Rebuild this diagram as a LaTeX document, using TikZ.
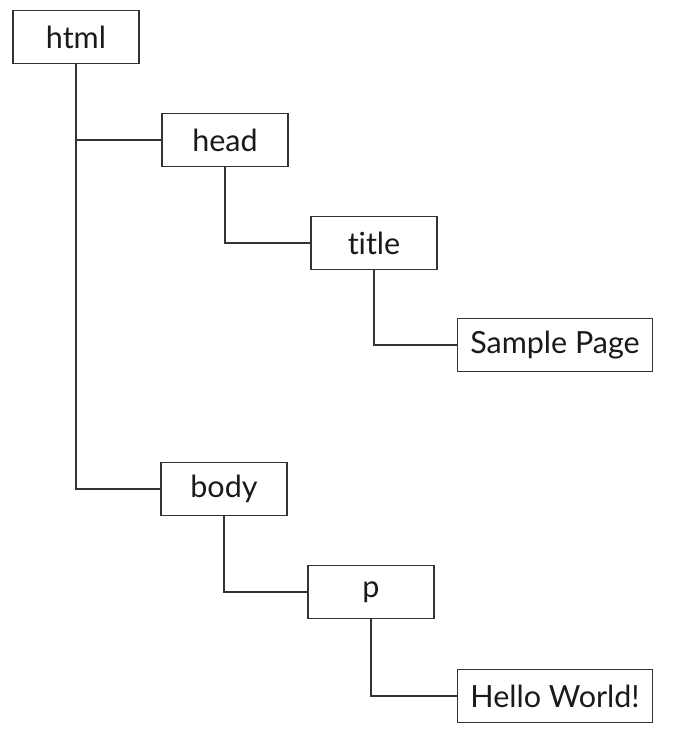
\documentclass[tikz,border=0pt]{standalone}
\usepackage{fontspec}
\setmainfont{Lato}[Ligatures=NoCommon]
\usetikzlibrary{positioning}
\definecolor{linegray}{HTML}{333333}
\definecolor{textgray}{HTML}{1A1A1A}
\tikzset{
  tag/.style={draw=linegray,line width=1.6pt,fill=white,text=textgray,
    minimum width=126pt,minimum height=53pt,inner sep=0pt,
    font=\fontsize{30.5}{36}\selectfont},
  leaf/.style={tag,minimum width=195pt},
  link/.style={draw=linegray,line width=1.6pt}
}
\begin{document}
\begin{tikzpicture}[x=1pt,y=-1pt]
\useasboundingbox (0,0) rectangle (685,744);

% element nodes
\node[tag] (html) at (76,37) {html};
\node[tag] (head) at (225,140) {head};
\node[tag] (title) at (374,243) {title};
\node[leaf] (sample) at (555,345) {Sample Page};
\node[tag] (body) at (224,489) {body};
\node[tag] (p) at (371,592) {p};
\node[leaf] (hello) at (555,696) {Hello World!};

% tree lines
\draw[link] (html.south) |- (head.west);
\draw[link] (html.south) |- (body.west);
\draw[link] (head.south) |- (title.west);
\draw[link] (title.south) |- (sample.west);
\draw[link] (body.south) |- (p.west);
\draw[link] (p.south) |- (hello.west);
\end{tikzpicture}
\end{document}
